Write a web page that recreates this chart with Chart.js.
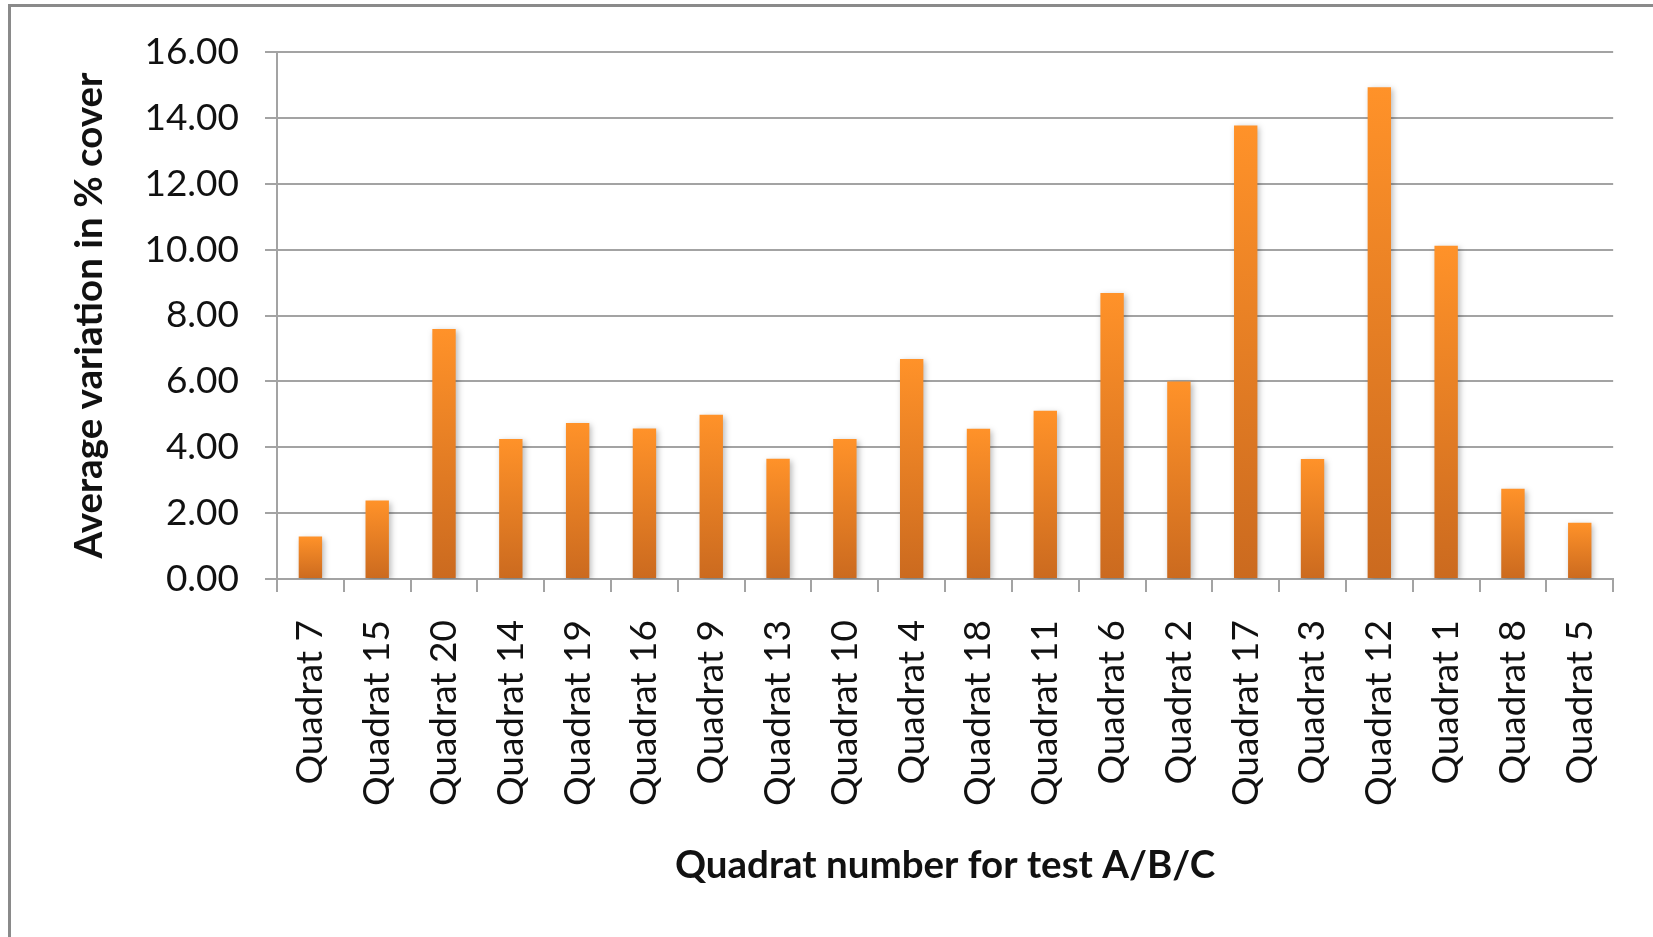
<!DOCTYPE html>
<html>
<head>
<meta charset="utf-8">
<script src="https://cdn.jsdelivr.net/npm/chart.js@4.4.1/dist/chart.umd.min.js"></script>
<style>
    html, body { margin: 0; padding: 0; background: #fff; overflow: hidden; }
    #frame {
        position: absolute; left: 8px; top: 4px;
        width: 2000px; height: 2000px;
        border: 3px solid #8a8a8a;
    }
    #wrap { position: absolute; left: 0; top: 0; width: 1653px; height: 937px; }
</style>
</head>
<body>
<div id="frame"></div>
<div id="wrap"><canvas id="quadratChart" width="1653" height="937"></canvas></div>
<script>
const quadrats = ['Quadrat 7', 'Quadrat 15', 'Quadrat 20', 'Quadrat 14', 'Quadrat 19',
    'Quadrat 16', 'Quadrat 9', 'Quadrat 13', 'Quadrat 10', 'Quadrat 4',
    'Quadrat 18', 'Quadrat 11', 'Quadrat 6', 'Quadrat 2', 'Quadrat 17',
    'Quadrat 3', 'Quadrat 12', 'Quadrat 1', 'Quadrat 8', 'Quadrat 5'];
const avgVariation = [1.29, 2.38, 7.59, 4.25, 4.74,
    4.57, 4.99, 3.65, 4.25, 6.68,
    4.56, 5.11, 8.68, 6.00, 13.77,
    3.64, 14.93, 10.12, 2.74, 1.71];
const yTicks = { min: 0, max: 16, step: 2 };

document.addEventListener('DOMContentLoaded', () => {
    const gridGray = '#a3a3a3';
    const textFont = 'Lato, "DejaVu Sans", sans-serif';

    // soft drop shadow under the bars, like the office chart
    const barShadow = {
        id: 'barShadow',
        beforeDatasetsDraw(chart) {
            const c = chart.ctx;
            c.save();
            c.shadowColor = 'rgba(0,0,0,0.28)';
            c.shadowBlur = 6;
            c.shadowOffsetX = 2;
            c.shadowOffsetY = 2;
        },
        afterDatasetsDraw(chart) {
            chart.ctx.restore();
        }
    };

    const barFill = (context) => {
        const chart = context.chart;
        if (!chart.chartArea || context.raw === undefined) return '#f08a2a';
        const y = chart.scales.y;
        const top = y.getPixelForValue(context.raw);
        const base = y.getPixelForValue(0);
        const g = chart.ctx.createLinearGradient(0, top, 0, base);
        g.addColorStop(0, '#ff9229');
        g.addColorStop(1, '#cb6a1f');
        return g;
    };

    const ctx = document.getElementById('quadratChart').getContext('2d');
    new Chart(ctx, {
        type: 'bar',
        data: {
            labels: quadrats,
            datasets: [{
                label: 'Average variation in % cover',
                data: avgVariation,
                backgroundColor: barFill,
                borderWidth: 0,
                categoryPercentage: 1,
                barPercentage: 0.35
            }]
        },
        plugins: [barShadow],
        options: {
            responsive: false,
            animation: false,
            devicePixelRatio: 1,
            layout: { padding: { top: 52, right: 34, left: 0, bottom: 0 } },
            plugins: {
                legend: { display: false },
                tooltip: { enabled: false }
            },
            scales: {
                x: {
                    afterFit: (scale) => { scale.height = 937 - 579; },
                    grid: {
                        offset: true,
                        drawOnChartArea: false,
                        drawTicks: true,
                        tickLength: 13,
                        color: gridGray,
                        lineWidth: 2
                    },
                    border: { display: true, color: gridGray, width: 2 },
                    ticks: {
                        autoSkip: false,
                        minRotation: 90,
                        maxRotation: 90,
                        padding: 28,
                        color: '#111',
                        font: { family: textFont, size: 37 }
                    },
                    title: {
                        display: true,
                        text: 'Quadrat number for test A/B/C',
                        color: '#111',
                        font: { family: textFont, size: 38.5, weight: 'bold' },
                        padding: { top: 0, bottom: 48 }
                    }
                },
                y: {
                    min: yTicks.min,
                    max: yTicks.max,
                    afterFit: (scale) => { scale.width = 277; },
                    grid: {
                        color: gridGray,
                        lineWidth: 2,
                        drawTicks: true,
                        tickLength: 12
                    },
                    border: { display: true, color: gridGray, width: 2 },
                    ticks: {
                        stepSize: yTicks.step,
                        padding: 26,
                        color: '#111',
                        font: { family: textFont, size: 37 },
                        callback: (v) => Number(v).toFixed(2)
                    },
                    title: {
                        display: true,
                        text: 'Average variation in % cover',
                        color: '#111',
                        font: { family: textFont, size: 38.5, weight: 'bold' },
                        padding: { top: 66, bottom: 0 }
                    }
                }
            }
        }
    });
});
</script>
</body>
</html>
